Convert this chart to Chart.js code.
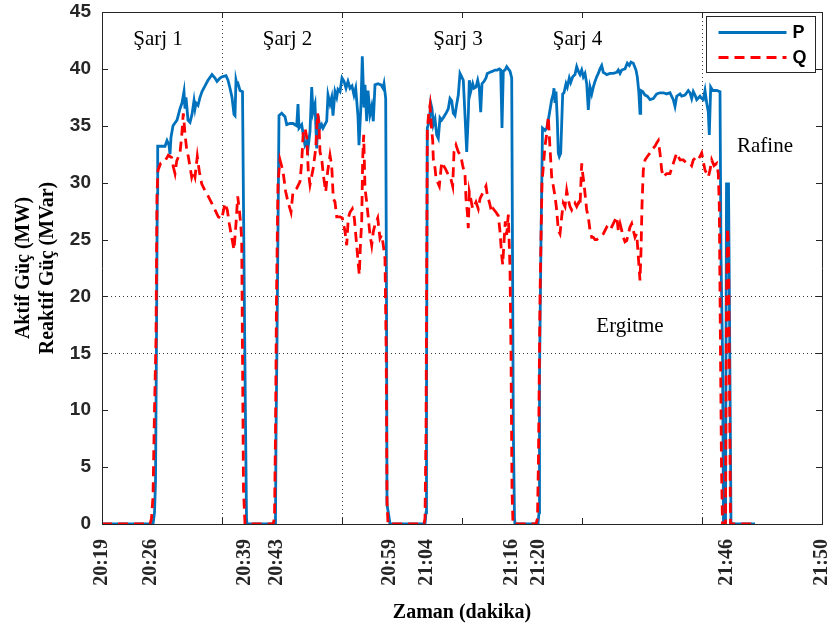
<!DOCTYPE html>
<html><head><meta charset="utf-8">
<script src="https://cdn.jsdelivr.net/npm/chart.js@4.4.0/dist/chart.umd.min.js"></script>
<style>html,body{margin:0;padding:0;background:#fff}</style>
</head><body>
<canvas id="c" width="830" height="630"></canvas>
<script>
// ---- data (x = sample index along the time axis, 0..720) ----
const tickPositions = [0, 49, 142.5, 175, 288, 325, 410, 437, 625, 720];
const tickLabels = ['20:19','20:26','20:39','20:43','20:59','21:04','21:16','21:20','21:46','21:50'];
const gridPositions = [120, 240, 600];
const yGridValues = [15, 20];

const pSeries = [
[0,0],[51,0],[52.5,1],[53.5,3.7],[54.5,16.3],[55.3,29],[55.7,33.2],[63,33.2],[65,33.7],[67,33.3],[68,32.5],[69,34],[71,35],[75,35.5],[78,36.5],[80,37],[82,38],[83,36.5],[84,37.5],[86,35.5],[88,35.3],[90,36],[92,37.2],[93,36.5],[94,37],[96,36.8],[98,37.5],[100,38],[103,38.5],[106,39],[110,39.5],[113,39.2],[115,38.9],[118,39.2],[120,39.3],[124,39.4],[126,39],[128,38.3],[130,37.5],[132,36],[133,35.9],[134,39],[135,38.6],[136,38.7],[138,38.1],[140.5,38],[141.5,28],[142.5,18],[143.5,9],[144.5,0.5],[145,0],
[173,0],[173.5,0.5],[174,7.7],[175,16],[176,26],[177,35.9],[179.7,36.1],[183,35.8],[184.7,35.1],[188,35.2],[191,35.2],[194.7,35],[196,36.9],[197,34.8],[199.7,35.1],[203,33.3],[204.7,33.6],[206,33],[208,34.5],[209.7,38.4],[211,36.2],[213,36.9],[214.7,33],[216,35.9],[218,34.8],[219.7,35.1],[221,34.8],[224.7,35.4],[226,37.7],[228,36.9],[229.7,37.5],[231,35.9],[233,38],[234.7,37.5],[236,38.2],[238,38],[240,39.2],[242,38.9],[244,38.3],[246,38.9],[248,38.3],[250,38.5],[252,37.7],[253.7,38.3],[256,35.8],[257,33.3],[259,36.9],[260.3,41.1],[262,36.6],[263,38.6],[264.7,35.4],[266,38.1],[268,36],[269.7,36.7],[271.3,35.4],[273,38.6],[276,38.7],[279,38.6],[281,38.3],[282,38.7],[283.7,37.4],[284.5,20],[285,1.7],[286.7,0.8],[288,0],
[323,0],[324,1],[324.5,10],[325.3,34.8],[327.3,35.4],[328.7,37],[330,36.5],[331.3,35.1],[333,35.6],[334.7,34.2],[336.3,33.9],[338,35.7],[339.7,35.5],[341.3,35.7],[344,36.1],[346.3,36.5],[348,37.4],[349.7,37.2],[351.3,36.1],[353,35.9],[354.7,36.9],[356.3,37.7],[358,39.6],[359.7,39.3],[361.3,39],[363,35.9],[364.7,32.7],[366.3,35.9],[367.3,39],[368.7,38],[370.7,38.7],[372,38.3],[374,38.4],[375.7,39],[377.3,38.3],[378.7,36.2],[380,38.7],[382,38.9],[384,39.2],[385.3,39.6],[388,39.7],[390.7,39.8],[393,39.9],[395.3,39.9],[397.3,40],[398.7,39.9],[400,34.8],[401.3,39.8],[403,39.9],[404.7,40.2],[406.3,40],[408,39.8],[409.7,39.2],[410.5,23.9],[411.3,8.4],[412.5,0.5],[413,0],
[436,0],[437,1],[437.5,12.9],[439,25],[440.5,34.8],[443,34.6],[444.7,34.8],[446.3,35.5],[448,36.4],[449.7,37.3],[451.3,37.8],[452,38.3],[453,37],[454,38],[455.3,35.5],[456.3,32.6],[457.3,32.3],[458.7,32.6],[459.7,35.2],[460.7,37.8],[462,37.9],[464,38.7],[465.3,38.4],[467.3,39.2],[468.7,38.8],[470.7,39.3],[473,39.5],[474.7,40.2],[476.3,39.8],[478,39.5],[479.7,39.9],[481.3,39.3],[483,39.6],[484.7,38.7],[486.3,36.4],[488,38.4],[489.7,37.8],[491.3,38.4],[493,38.9],[494.7,39.3],[496.3,39.6],[498,40],[499.7,40.3],[501.3,39.7],[503,39.6],[504.7,39.5],[508,39.6],[511.3,39.6],[514.7,39.7],[516.3,39.9],[518,39.6],[519.7,39.9],[523,40],[525.3,40.5],[527.3,40.3],[529,40.6],[531.3,40.5],[534,39.9],[535.3,39.3],[536.7,38.1],[538,36.1],[538.7,38.1],[540.7,38],[543,37.7],[545.3,37.6],[548,37.3],[551.3,37.4],[554.7,37.8],[558,37.9],[561.3,37.9],[564.7,37.8],[568,37.9],[571.3,37.3],[573,36.7],[574.7,37.6],[578,37.8],[579.7,37.6],[583,37.7],[586.3,38.1],[588,37.9],[589.7,37.4],[591.3,38],[593,37.7],[594.7,37.3],[598,37.6],[599.7,37.4],[601.3,37.3],[603,38.1],[604.7,37],[606.3,36.2],[607.3,34.2],[608.7,38.4],[610.7,38.1],[614.7,38.1],[618,38],[619,23.5],[620.5,15],[621.5,0],[623.5,0],[624.5,29.9],[626.5,29.9],[627,24.5],[628,12.4],[629,0],[653,0]
];

const qSeries = [
[0,0],[48,0],[49.5,0.5],[51,2.4],[52.5,10],[54,16.3],[55,29],[56,31.1],[58.7,31.7],[63,31.9],[66.3,32.4],[69.7,32.2],[71.3,31.4],[73,30.8],[74.7,31.9],[78,32.6],[79.7,34.1],[81.3,36.1],[83,34.3],[84.7,32.9],[86.3,32.3],[88,31.4],[89.7,30.5],[91.3,31],[93,30.5],[95.3,32.3],[97.3,31],[99.7,29.9],[103,29.3],[106.3,28.8],[109.7,28.2],[113,27.6],[116.3,27],[119.7,26.8],[123,28.2],[125.3,27.6],[127.3,26.4],[129.7,25.2],[132,24.1],[134,26.4],[135.7,28.8],[137.3,27.6],[138.7,26.4],[139.7,25],[140.5,15],[141.5,3],[143,0],
[171,0],[172.5,0.5],[173.5,8],[174.5,20],[176,30],[178,32],[181,31],[183.7,29.2],[186,28.3],[189,27.4],[191,29.2],[194.7,29.5],[198,30.1],[199.7,31.8],[201.3,34.5],[203,34.8],[204.7,34],[206.3,31],[208,29.8],[211.3,31.3],[213.7,33],[215.7,36.1],[217,35.1],[218,32.7],[219.7,32.1],[221.3,30.7],[223.7,29.2],[225.7,31],[228,32.4],[229.7,31.5],[231.3,28.6],[233,28.3],[234.7,27],[238,27],[240.3,26.9],[243,25.7],[244.7,24.5],[246.3,26.9],[248,27.4],[250.3,27.7],[252.3,26.9],[254.7,24.5],[256.3,22.8],[257.3,21.9],[258.3,24.3],[259.7,26.6],[260.7,32.1],[261.7,34.2],[263,29.5],[264.7,28.3],[266.3,26.9],[268,25.4],[269.7,24.5],[271.3,25.7],[273,26.3],[275.7,26.9],[278,25.1],[279.7,25.4],[281.3,24.5],[283,23.3],[284.2,15],[285,2],[286,0],
[322,0],[323,0.5],[324,8],[325.3,34.6],[326.7,36.1],[328,36.8],[329,35.4],[329.7,34.6],[330.7,33.7],[331.3,32.1],[333,31.3],[334,30.4],[335.3,30.1],[337.3,29.7],[339.7,31.8],[341.3,31.5],[343,31.3],[346.3,30.7],[348.7,30.4],[350.7,29.7],[352,32.7],[354,33.3],[356.3,32.7],[358.7,32.4],[360.7,31.5],[363,30.7],[364,28.6],[365.3,27.4],[366.3,26],[367.3,29.2],[368.7,28.6],[370.7,27.7],[372,27.9],[374,28.3],[376.3,27.7],[378,28.6],[379.7,28.9],[381.3,29.2],[384,29.7],[385.3,28.9],[387.3,28.3],[389.7,27.4],[391.3,27.7],[394,27.4],[396.3,27.1],[398,25.7],[399.7,23.6],[400.7,22.8],[402,24.8],[403.3,26.6],[404.7,25.4],[406.3,27.2],[408,22.5],[409,15],[410,3],[411,0],
[434,0],[435.5,0.5],[436.5,6],[438,20],[440,30],[443,33.2],[444.7,34.3],[446.3,35.8],[447.3,34.1],[448.7,32],[449.7,30.5],[451.3,29.7],[453,28.8],[454.7,27.6],[456.3,25.8],[458,25.5],[459.7,27],[461.3,28.2],[463,27.9],[464.7,29.3],[466.3,28.5],[468,27.9],[469.7,27.6],[471.3,27.9],[473,28.2],[474.7,27.9],[476.3,28.2],[478,27.9],[479.7,31.7],[480.7,30.8],[482,29.9],[483.3,28.8],[484.7,27.6],[486.3,27],[488,25.8],[489.7,25.2],[491.3,25.2],[493,25],[494.7,25],[498,25.2],[501.3,25.5],[504.7,26.1],[508,25.8],[511.3,26.4],[514.7,27],[516.3,25.8],[518,26.4],[519.7,25.8],[521.3,25.2],[523,24.8],[524.7,24.9],[528,26.1],[529.7,26.4],[531.3,25.8],[533,25.2],[534.7,25.5],[536.3,23.5],[538,21.4],[539,24],[540,28],[541.3,31.1],[543,32],[545.3,32.3],[548,32.6],[549.7,32.9],[553,33.2],[554.7,33.5],[556.3,33.7],[558,32.6],[559.7,31.1],[561.3,30.5],[564.7,30.8],[568,30.8],[571.3,31.7],[574.7,32.6],[576.3,32.3],[578,32],[581.3,32],[584.7,31.7],[588,31.7],[589.7,31.5],[591.3,32],[594.7,32.3],[596.3,32.1],[598,32.3],[599.7,32.6],[603,31.1],[604.7,30.8],[606.3,30.5],[608,31.1],[609.7,32],[612,31.5],[614.7,31.7],[616.3,30.8],[617.3,28],[618.5,15],[619.5,5],[620.5,0],[623.5,0],[624.5,20],[625.5,26],[626.5,24.6],[627.5,12],[628.5,0],[653,0]
];

const annotationTexts = ['Şarj 1','Şarj 2','Şarj 3','Şarj 4','Rafine','Ergitme'];
const annotationX = [56, 185.5, 356, 475.5, 663, 528];
const annotationY = [42.1, 42.1, 42.1, 42.1, 32.7, 16.9];

// ---- chart ----
const AXIS = '#262626';
const BLUE = '#0072BD';
const RED = '#FF0000';

const annotationPlugin = {
  id: 'annotations',
  afterDatasetsDraw(chart) {
    const {ctx, scales: {x, y}} = chart;
    ctx.save();
    ctx.font = '21px "Liberation Serif"';
    ctx.fillStyle = '#000';
    ctx.textAlign = 'center';
    ctx.textBaseline = 'alphabetic';
    annotationTexts.forEach((t, i) => {
      ctx.fillText(t, x.getPixelForValue(annotationX[i]), y.getPixelForValue(annotationY[i]));
    });
    ctx.restore();
  }
};

// inward tick marks (MATLAB style box axes)
const innerTicksPlugin = {
  id: 'innerTicks',
  afterDraw(chart) {
    const {ctx, chartArea: a, scales: {x2, y}} = chart;
    const len = 6;
    ctx.save();
    ctx.strokeStyle = AXIS;
    ctx.lineWidth = 1;
    ctx.beginPath();
    x2.ticks.forEach(t => {
      const px = Math.round(x2.getPixelForValue(t.value)) + 0.5;
      ctx.moveTo(px, a.bottom); ctx.lineTo(px, a.bottom - len);
      ctx.moveTo(px, a.top); ctx.lineTo(px, a.top + len);
    });
    y.ticks.forEach(t => {
      const py = Math.round(y.getPixelForValue(t.value)) + 0.5;
      ctx.moveTo(a.left, py); ctx.lineTo(a.left + len, py);
      ctx.moveTo(a.right, py); ctx.lineTo(a.right - len, py);
    });
    ctx.stroke();
    ctx.restore();
  }
};

const legendPlugin = {
  id: 'boxLegend',
  afterDraw(chart) {
    const {ctx, chartArea} = chart;
    const bx = chartArea.right - 115.5, by = chartArea.top + 4.5, bw = 109, bh = 56;
    ctx.save();
    ctx.fillStyle = '#fff';
    ctx.fillRect(bx, by, bw, bh);
    ctx.strokeStyle = AXIS;
    ctx.lineWidth = 1;
    ctx.strokeRect(bx, by, bw, bh);
    ctx.font = 'bold 18px "Liberation Sans"';
    ctx.textBaseline = 'middle';
    ctx.textAlign = 'left';
    chart.data.datasets.forEach((ds, i) => {
      const ly = by + 16 + i * 25;
      ctx.beginPath();
      ctx.strokeStyle = ds.borderColor;
      ctx.lineWidth = ds.borderWidth;
      ctx.setLineDash(ds.borderDash || []);
      ctx.moveTo(bx + 12, ly);
      ctx.lineTo(bx + 80, ly);
      ctx.stroke();
      ctx.setLineDash([]);
      ctx.fillStyle = '#000';
      ctx.fillText(ds.label, bx + 86, ly + 1);
    });
    ctx.restore();
  }
};

function noPad(s) { s.paddingLeft = 0; s.paddingRight = 0; s.paddingTop = 0; s.paddingBottom = 0; }

new Chart(document.getElementById('c'), {
  type: 'line',
  data: {
    datasets: [
      { label: 'P', data: pSeries.map(p => ({x: p[0], y: p[1]})), borderColor: BLUE, borderWidth: 2.8,
        pointRadius: 0, tension: 0, fill: false, order: 1 },
      { label: 'Q', data: qSeries.map(p => ({x: p[0], y: p[1]})), borderColor: RED, borderWidth: 2.8,
        borderDash: [10, 6], pointRadius: 0, tension: 0, fill: false, order: 0 }
    ]
  },
  options: {
    responsive: false,
    animation: false,
    layout: { padding: { top: 12, right: 8, left: 0, bottom: 0 } },
    plugins: { legend: { display: false }, tooltip: { enabled: false } },
    scales: {
      x: {
        type: 'linear', position: 'bottom', min: 0, max: 720,
        afterBuildTicks: s => { s.ticks = tickPositions.map(v => ({ value: v })); },
        afterFit: s => { s.height = 106; noPad(s); },
        ticks: {
          autoSkip: false, minRotation: 90, maxRotation: 90, padding: 7,
          color: AXIS, font: { family: 'Liberation Serif', weight: 'bold', size: 20 },
          callback: v => tickLabels[tickPositions.indexOf(v)]
        },
        grid: { display: false },
        border: { display: true, color: AXIS, width: 1 },
        title: { display: true, text: 'Zaman (dakika)', color: '#000',
          font: { family: 'Liberation Serif', weight: 'bold', size: 20 }, padding: { top: 0, bottom: 5 } }
      },
      x2: {
        type: 'linear', position: 'top', min: 0, max: 720,
        afterFit: s => { s.height = 0; noPad(s); },
        ticks: { display: false, stepSize: 120 },
        grid: { display: true, drawTicks: false, lineWidth: 1,
          color: c => gridPositions.includes(c.tick && c.tick.value) ? '#3a3a3a' : 'rgba(0,0,0,0)' },
        border: { display: true, color: AXIS, width: 1, dash: [1, 3] }
      },
      y: {
        type: 'linear', position: 'left', min: 0, max: 45,
        afterFit: s => { s.width = 102; noPad(s); },
        ticks: { stepSize: 5, padding: 11, color: AXIS,
          font: { family: 'Liberation Sans', weight: 'bold', size: 19 } },
        grid: { display: true, drawTicks: false, lineWidth: 1,
          color: c => yGridValues.includes(c.tick && c.tick.value) ? '#3a3a3a' : 'rgba(0,0,0,0)' },
        border: { display: true, color: AXIS, width: 1, dash: [1, 3] },
        title: { display: true, text: ['Aktif Güç (MW)', 'Reaktif Güç (MVar)'], color: '#000',
          font: { family: 'Liberation Serif', weight: 'bold', size: 20, lineHeight: 1.2 }, padding: { top: 12, bottom: 0 } }
      },
      y2: {
        type: 'linear', position: 'right', min: 0, max: 45,
        afterFit: s => { s.width = 0; noPad(s); },
        ticks: { display: false },
        grid: { display: false },
        border: { display: true, color: AXIS, width: 1 }
      }
    }
  },
  plugins: [annotationPlugin, innerTicksPlugin, legendPlugin]
});
</script>
</body></html>
